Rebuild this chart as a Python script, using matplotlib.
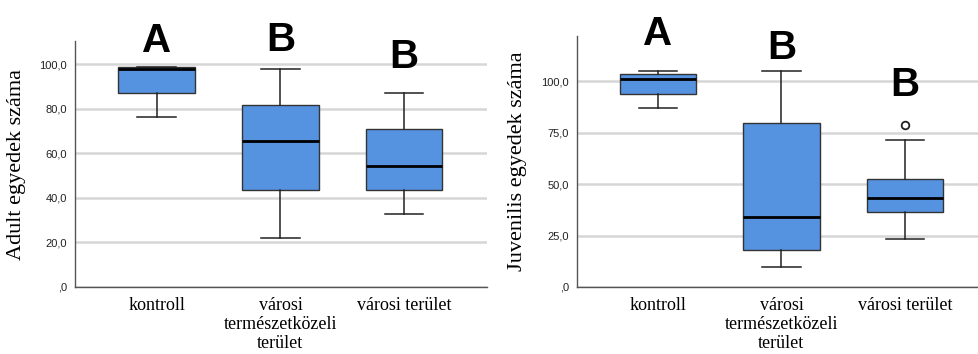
import matplotlib
matplotlib.use("Agg")
import matplotlib.pyplot as plt
from matplotlib.ticker import FuncFormatter

categories = ["kontroll", "városi\ntermészetközeli\nterület", "városi terület"]

# Adult panel: whisker low, Q1, median, Q3, whisker high
adult_low = [76.5, 22.0, 33.0]
adult_q1 = [87.0, 43.5, 43.5]
adult_med = [98.0, 65.5, 54.5]
adult_q3 = [98.6, 81.8, 70.8]
adult_high = [98.6, 98.0, 87.0]
adult_fliers = [[], [], []]
adult_letters = ["A", "B", "B"]

# Juvenile panel
juv_low = [87.0, 9.5, 23.5]
juv_q1 = [93.8, 18.2, 36.3]
juv_med = [101.0, 34.2, 43.3]
juv_q3 = [103.4, 79.6, 52.5]
juv_high = [105.2, 104.8, 71.3]
juv_fliers = [[], [], [78.8]]
juv_letters = ["A", "B", "B"]

BOX_COLOR = "#5592e0"
SERIF = ["Liberation Serif", "DejaVu Serif"]
SANS = ["Liberation Sans", "DejaVu Sans"]


def make_stats(low, q1, med, q3, high, fliers):
    return [dict(whislo=a, q1=b, med=c, q3=d, whishi=e, fliers=f)
            for a, b, c, d, e, f in zip(low, q1, med, q3, high, fliers)]


def fmt(v, pos):
    s = f"{v:.1f}".replace(".", ",")
    if s.startswith("0,"):
        s = s[1:]
    return s


def draw(ax, stats, ylim, ticks, ylabel, letters, letter_y, xlim):
    ax.bxp(stats, positions=[1, 2, 3], widths=0.62, showfliers=True,
           patch_artist=True,
           boxprops=dict(facecolor=BOX_COLOR, edgecolor="#333333", linewidth=1.0),
           medianprops=dict(color="black", linewidth=2.0),
           whiskerprops=dict(color="#222222", linewidth=1.1),
           capprops=dict(color="#222222", linewidth=1.1),
           capwidths=0.31,
           flierprops=dict(marker="o", markersize=5.5, markerfacecolor="white",
                           markeredgecolor="#222222", markeredgewidth=1.3))
    ax.set_ylim(*ylim)
    ax.set_xlim(*xlim)
    ax.set_yticks(ticks)
    ax.yaxis.set_major_formatter(FuncFormatter(fmt))
    ax.set_xticks([1, 2, 3])
    ax.set_xticklabels(categories, family=SERIF, fontsize=13, linespacing=1.15)
    for lab in ax.get_yticklabels():
        lab.set_family(SANS)
        lab.set_fontsize(8)
        lab.set_color("#222222")
    ax.tick_params(axis="both", length=0)
    ax.tick_params(axis="y", pad=6)
    ax.tick_params(axis="x", pad=7)
    ax.yaxis.grid(True, color="#d6d6d6", linewidth=1.8)
    ax.set_axisbelow(True)
    for s in ["top", "right"]:
        ax.spines[s].set_visible(False)
    for s in ["left", "bottom"]:
        ax.spines[s].set_color("#555555")
        ax.spines[s].set_linewidth(1.0)
    ax.set_ylabel(ylabel, family=SERIF, fontsize=16)
    for i, (t, y) in enumerate(zip(letters, letter_y)):
        ax.text(i + 1, y, t, ha="center", va="baseline", fontsize=29,
                fontweight="bold", family=SANS, clip_on=False, color="black")


fig = plt.figure(figsize=(9.79, 3.54), dpi=100)
ax1 = fig.add_axes([75 / 979, 67 / 354, 412 / 979, 246 / 354])
ax2 = fig.add_axes([577 / 979, 67 / 354, 402 / 979, 251 / 354])

draw(ax1, make_stats(adult_low, adult_q1, adult_med, adult_q3, adult_high, adult_fliers),
     (0, 110.5), [0, 20, 40, 60, 80, 100], "Adult egyedek száma",
     adult_letters, [105.6, 105.8, 98.2], (0.34, 3.67))
draw(ax2, make_stats(juv_low, juv_q1, juv_med, juv_q3, juv_high, juv_fliers),
     (0, 122), [0, 25, 50, 75, 100], "Juvenilis egyedek száma",
     juv_letters, [117.4, 111.0, 92.7], (0.345, 3.6))

ax1.yaxis.set_label_coords(-0.119, 0.5)
ax2.yaxis.set_label_coords(-0.124, 0.5)

fig.savefig("out.png", dpi=100)
